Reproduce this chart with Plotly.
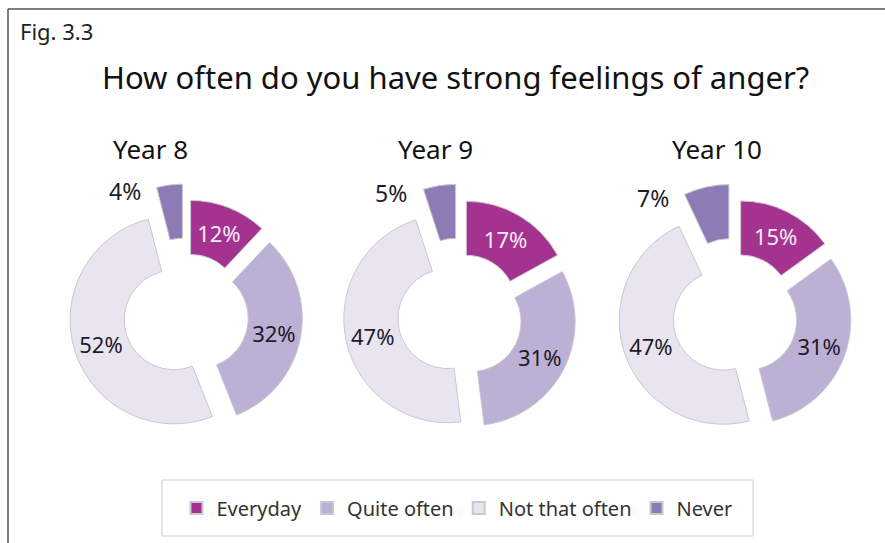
import math
import plotly.graph_objects as go

# ---- data -------------------------------------------------------------
categories = ["Everyday", "Quite often", "Not that often", "Never"]
years = ["Year 8", "Year 9", "Year 10"]
year8 = [12, 32, 52, 4]
year9 = [17, 31, 47, 5]
year10 = [15, 31, 47, 7]
series = [year8, year9, year10]

title_text = "How often do you have strong feelings of anger?"
fig_label = "Fig. 3.3"

# ---- styling ----------------------------------------------------------
W, H = 885, 543
FONT = "'Noto Sans', Lato, sans-serif"
colors = ["#a4338f", "#bcb0d5", "#e9e5f0", "#8e7bb6"]
text_colors = ["#f6eaf5", "#1d1b29", "#1d1b29", "#1d1b29"]
pulls = [0.12, 0.12, 0.12, 0.27]
hole = 0.48

centers_x = [186, 460, 735]   # pie centres (px)
center_y = 316
radius = 104                  # outer radius (px)
half_box = radius * (1 + max(pulls))

fig = go.Figure()

for i, (name, vals) in enumerate(zip(years, series)):
    cx = centers_x[i]
    fig.add_trace(go.Pie(
        labels=categories,
        values=vals,
        name=name,
        sort=False,
        direction="clockwise",
        rotation=0,
        hole=hole,
        pull=pulls,
        marker=dict(colors=colors, line=dict(color="#c9c7d2", width=1)),
        texttemplate="%{value}%",
        textposition=["inside", "inside", "inside", "none"],
        insidetextorientation="horizontal",
        textfont=dict(family=FONT, size=22, color=text_colors),
        hoverinfo="label+percent",
        showlegend=(i == 0),
        domain=dict(
            x=[(cx - half_box) / W, (cx + half_box) / W],
            y=[1 - (center_y + half_box) / H, 1 - (center_y - half_box) / H],
        ),
    ))

annotations = []

# "Never" share, written beside the detached slice
for i, vals in enumerate(series):
    total = sum(vals)
    never = vals[-1]
    start = 2 * math.pi * (1 - never / total)
    mid = 2 * math.pi * (1 - never / (2 * total))
    shift = pulls[-1] * radius
    px = centers_x[i] + shift * math.sin(mid) + radius * math.sin(start)
    py = center_y - shift * math.cos(mid) - radius * math.cos(start)
    annotations.append(dict(
        text=f"{never}%", x=px / W, y=1 - py / H, xref="paper", yref="paper",
        xanchor="right", yanchor="middle", showarrow=False,
        xshift=-14, yshift=-4,
        font=dict(family=FONT, size=23, color="#1d1b29"),
    ))

# year headings
year_label_x = [150, 435, 717]
for name, x in zip(years, year_label_x):
    annotations.append(dict(
        text=name, x=x / W, y=1 - 149 / H, xref="paper", yref="paper",
        xanchor="center", yanchor="middle", showarrow=False,
        font=dict(family=FONT, size=26, color="#111111"),
    ))

annotations.append(dict(
    text=title_text, x=455 / W, y=1 - 77 / H, xref="paper", yref="paper",
    xanchor="center", yanchor="middle", showarrow=False,
    font=dict(family=FONT, size=31, color="#111111"),
))
annotations.append(dict(
    text=fig_label, x=18 / W, y=1 - 31 / H, xref="paper", yref="paper",
    xanchor="left", yanchor="middle", showarrow=False,
    font=dict(family=FONT, size=22, color="#222222"),
))

# frame along the top and left edges, plus the legend box
shapes = [
    dict(type="line", xref="paper", yref="paper",
         x0=8 / W, y0=0, x1=8 / W, y1=1 - 9 / H,
         line=dict(color="#555555", width=1.5)),
    dict(type="line", xref="paper", yref="paper",
         x0=8 / W, y0=1 - 9 / H, x1=1, y1=1 - 9 / H,
         line=dict(color="#555555", width=1.5)),
    dict(type="rect", xref="paper", yref="paper",
         x0=162 / W, x1=753 / W, y0=1 - 536 / H, y1=1 - 480 / H,
         line=dict(color="#cccccc", width=1), fillcolor="rgba(0,0,0,0)",
         layer="above"),
]

fig.update_layout(
    width=W, height=H,
    margin=dict(l=0, r=0, t=0, b=0),
    paper_bgcolor="white",
    plot_bgcolor="white",
    font=dict(family=FONT),
    annotations=annotations,
    shapes=shapes,
    legend=dict(
        orientation="h",
        x=457 / W, xanchor="center",
        y=1 - 508 / H, yanchor="middle",
        bgcolor="rgba(0,0,0,0)",
        borderwidth=0,
        font=dict(family=FONT, size=20, color="#333333"),
        itemsizing="constant",
    ),
)

fig.write_html("out.html")
